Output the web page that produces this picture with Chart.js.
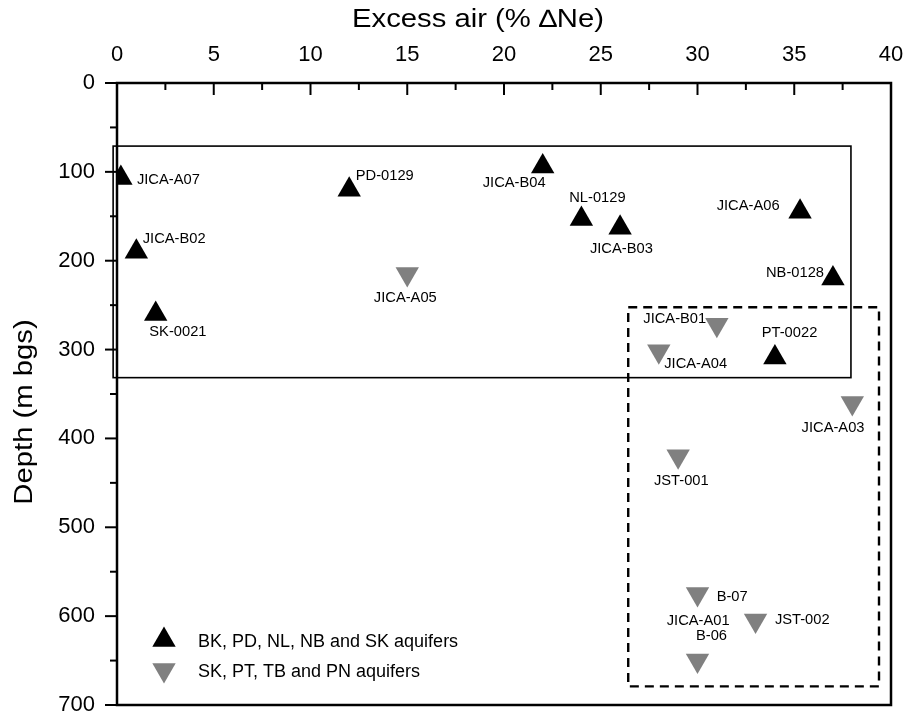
<!DOCTYPE html>
<html>
<head>
<meta charset="utf-8">
<script src="https://cdn.jsdelivr.net/npm/chart.js@4.4.1/dist/chart.umd.min.js"></script>
<style>
html,body{margin:0;padding:0;background:#fff;}
#wrap{width:910px;height:717px;position:relative;}
</style>
</head>
<body>
<div id="wrap"><canvas id="c" width="910" height="717"></canvas></div>
<script>
// ---- data ----
const seriesNames = ['BK, PD, NL, NB and SK aquifers', 'SK, PT, TB and PN aquifers'];
const blackWells = ['JICA-A07','JICA-B02','SK-0021','PD-0129','JICA-B04','NL-0129','JICA-B03','JICA-A06','NB-0128','PT-0022'];
const blackExcessAir = [0.2, 1, 2, 12, 22, 24, 26, 35.3, 37, 34];
const blackDepth = [107, 190, 260, 120, 94, 153, 163, 145, 220, 309];
const grayWells = ['JICA-A05','JICA-B01','JICA-A04','JICA-A03','JST-001','B-07','JST-002','B-06'];
const grayExcessAir = [15, 31, 28, 38, 29, 30, 33, 30];
const grayDepth = [215, 272, 302, 360, 420, 575, 605, 650];
const xTicks = [0, 5, 10, 15, 20, 25, 30, 35, 40];
const yTicks = [0, 100, 200, 300, 400, 500, 600, 700];

// point labels (text, x, y in data units, alignment)
const labelText = ['JICA-A07','JICA-B02','SK-0021','PD-0129','JICA-A05','JICA-B04','NL-0129','JICA-B03','JICA-A06','NB-0128','JICA-B01','PT-0022','JICA-A04','JICA-A03','JST-001','B-07','JICA-A01','B-06','JST-002'];
const labelX = [1.03, 1.33, 1.67, 12.34, 14.9, 18.9, 23.37, 24.44, 30.99, 33.54, 27.2, 33.32, 28.28, 35.38, 27.75, 30.99, 28.41, 29.92, 34.0];
const labelY = [109, 176, 280, 104.7, 242, 113, 130, 187, 139, 213.5, 266, 281, 316.6, 388, 448, 579, 606, 622, 605];
const labelAlign = ['left','left','left','left','center','left','left','left','left','left','left','left','left','left','left','left','left','left','left'];

// grouping boxes [xMin, xMax, yMin, yMax]
const solidBox = [-0.2, 37.93, 71, 331.6];
const dashedBox = [26.42, 39.38, 252.4, 679];

const FONT = '"Liberation Sans", Arial, Helvetica, sans-serif';

const blackData = blackExcessAir.map((x, i) => ({x: x, y: blackDepth[i]}));
const grayData = grayExcessAir.map((x, i) => ({x: x, y: grayDepth[i]}));

// draw text stretched horizontally (the original figure is slightly wide)
function stretchText(ctx, s, x, y, align, sx) {
  ctx.save();
  ctx.translate(x, y);
  ctx.scale(sx, 1);
  ctx.textAlign = align;
  ctx.fillText(s, 0, 0);
  ctx.restore();
}

const decor = {
  id: 'decor',
  afterDatasetsDraw(chart) {
    const ctx = chart.ctx;
    const xs = chart.scales.x, ys = chart.scales.y;
    const a = chart.chartArea;
    ctx.save();
    // boxes
    ctx.strokeStyle = '#000';
    ctx.lineWidth = 1.6;
    ctx.setLineDash([]);
    let l = xs.getPixelForValue(solidBox[0]), r = xs.getPixelForValue(solidBox[1]);
    let t = ys.getPixelForValue(solidBox[2]), b = ys.getPixelForValue(solidBox[3]);
    ctx.strokeRect(l, t, r - l, b - t);
    ctx.lineWidth = 2.4;
    ctx.setLineDash([9, 6]);
    l = xs.getPixelForValue(dashedBox[0]); r = xs.getPixelForValue(dashedBox[1]);
    t = ys.getPixelForValue(dashedBox[2]); b = ys.getPixelForValue(dashedBox[3]);
    ctx.strokeRect(l, t, r - l, b - t);
    ctx.setLineDash([]);

    // point labels
    ctx.fillStyle = '#000';
    ctx.font = '14px ' + FONT;
    ctx.textBaseline = 'middle';
    labelText.forEach((s, i) => {
      stretchText(ctx, s, xs.getPixelForValue(labelX[i]), ys.getPixelForValue(labelY[i]), labelAlign[i], 1.05);
    });

    // frame
    ctx.lineWidth = 2.5;
    ctx.strokeRect(a.left, a.top, a.right - a.left, a.bottom - a.top);

    // top axis ticks (inward)
    ctx.lineWidth = 2;
    for (let v = xs.min; v <= xs.max + 1e-9; v += 2.5) {
      const px = xs.getPixelForValue(v);
      const len = (Math.abs(v % 5) < 1e-9) ? 12 : 7;
      ctx.beginPath(); ctx.moveTo(px, a.top); ctx.lineTo(px, a.top + len); ctx.stroke();
    }
    // left axis ticks (outward)
    for (let v = ys.min; v <= ys.max + 1e-9; v += 50) {
      const py = ys.getPixelForValue(v);
      const len = (Math.abs(v % 100) < 1e-9) ? 12 : 7;
      ctx.beginPath(); ctx.moveTo(a.left, py); ctx.lineTo(a.left - len, py); ctx.stroke();
    }

    // legend
    const dsets = chart.data.datasets;
    const lx = a.left + 47;
    const rows = [a.top + 557, a.top + 587];
    dsets.forEach((ds, i) => {
      const y = rows[i];
      const R = 13.5, rad0 = ds.pointRotation * Math.PI / 180;
      ctx.fillStyle = ds.backgroundColor;
      ctx.beginPath();
      for (let k = 0; k < 3; k++) {
        const rr = rad0 + k * 2 * Math.PI / 3;
        const px = lx + Math.sin(rr) * R, py = y - Math.cos(rr) * R;
        if (k === 0) ctx.moveTo(px, py); else ctx.lineTo(px, py);
      }
      ctx.closePath(); ctx.fill();
      ctx.fillStyle = '#000';
      ctx.font = '18px ' + FONT;
      ctx.textBaseline = 'middle';
      stretchText(ctx, ds.label, lx + 34, y + 2, 'left', 1.0);
    });

    // axis titles
    ctx.fillStyle = '#000';
    ctx.font = '25px ' + FONT;
    ctx.textBaseline = 'middle';
    stretchText(ctx, 'Excess air (% \u2206Ne)', 478, 20, 'center', 1.17);
    ctx.save();
    ctx.translate(25, 412);
    ctx.rotate(-Math.PI / 2);
    stretchText(ctx, 'Depth (m bgs)', 0, 0, 'center', 1.17);
    ctx.restore();
    ctx.restore();
  }
};

new Chart(document.getElementById('c'), {
  type: 'scatter',
  data: {
    datasets: [
      {label: seriesNames[0], data: blackData, pointStyle: 'triangle', pointRadius: 13.5, pointHoverRadius: 13.5,
       pointRotation: 0, backgroundColor: '#000000', borderColor: '#000000', borderWidth: 0, clip: 0},
      {label: seriesNames[1], data: grayData, pointStyle: 'triangle', pointRadius: 13.5, pointHoverRadius: 13.5,
       pointRotation: 180, backgroundColor: '#808080', borderColor: '#808080', borderWidth: 0, clip: 0}
    ]
  },
  options: {
    responsive: false,
    animation: false,
    events: [],
    layout: {autoPadding: false, padding: {left: 0, top: 0, right: 19, bottom: 12}},
    plugins: {legend: {display: false}, tooltip: {enabled: false}, title: {display: false}},
    scales: {
      x: {
        type: 'linear', position: 'top', min: 0, max: 40,
        afterBuildTicks: (s) => { s.ticks = xTicks.map(v => ({value: v})); },
        afterFit: (s) => { s.height = 83; s.paddingLeft = 0; s.paddingRight = 0; },
        ticks: {color: '#000', font: {size: 22, family: FONT}, padding: 15, maxRotation: 0, autoSkip: false},
        grid: {display: false, drawTicks: false},
        border: {display: false},
        title: {display: false}
      },
      y: {
        type: 'linear', position: 'left', reverse: true, min: 0, max: 700,
        afterBuildTicks: (s) => { s.ticks = yTicks.map(v => ({value: v})); },
        afterFit: (s) => { s.width = 117; s.paddingTop = 0; s.paddingBottom = 0; },
        ticks: {color: '#000', font: {size: 22, family: FONT}, padding: 22, autoSkip: false},
        grid: {display: false, drawTicks: false},
        border: {display: false},
        title: {display: false}
      }
    }
  },
  plugins: [decor]
});
</script>
</body>
</html>
